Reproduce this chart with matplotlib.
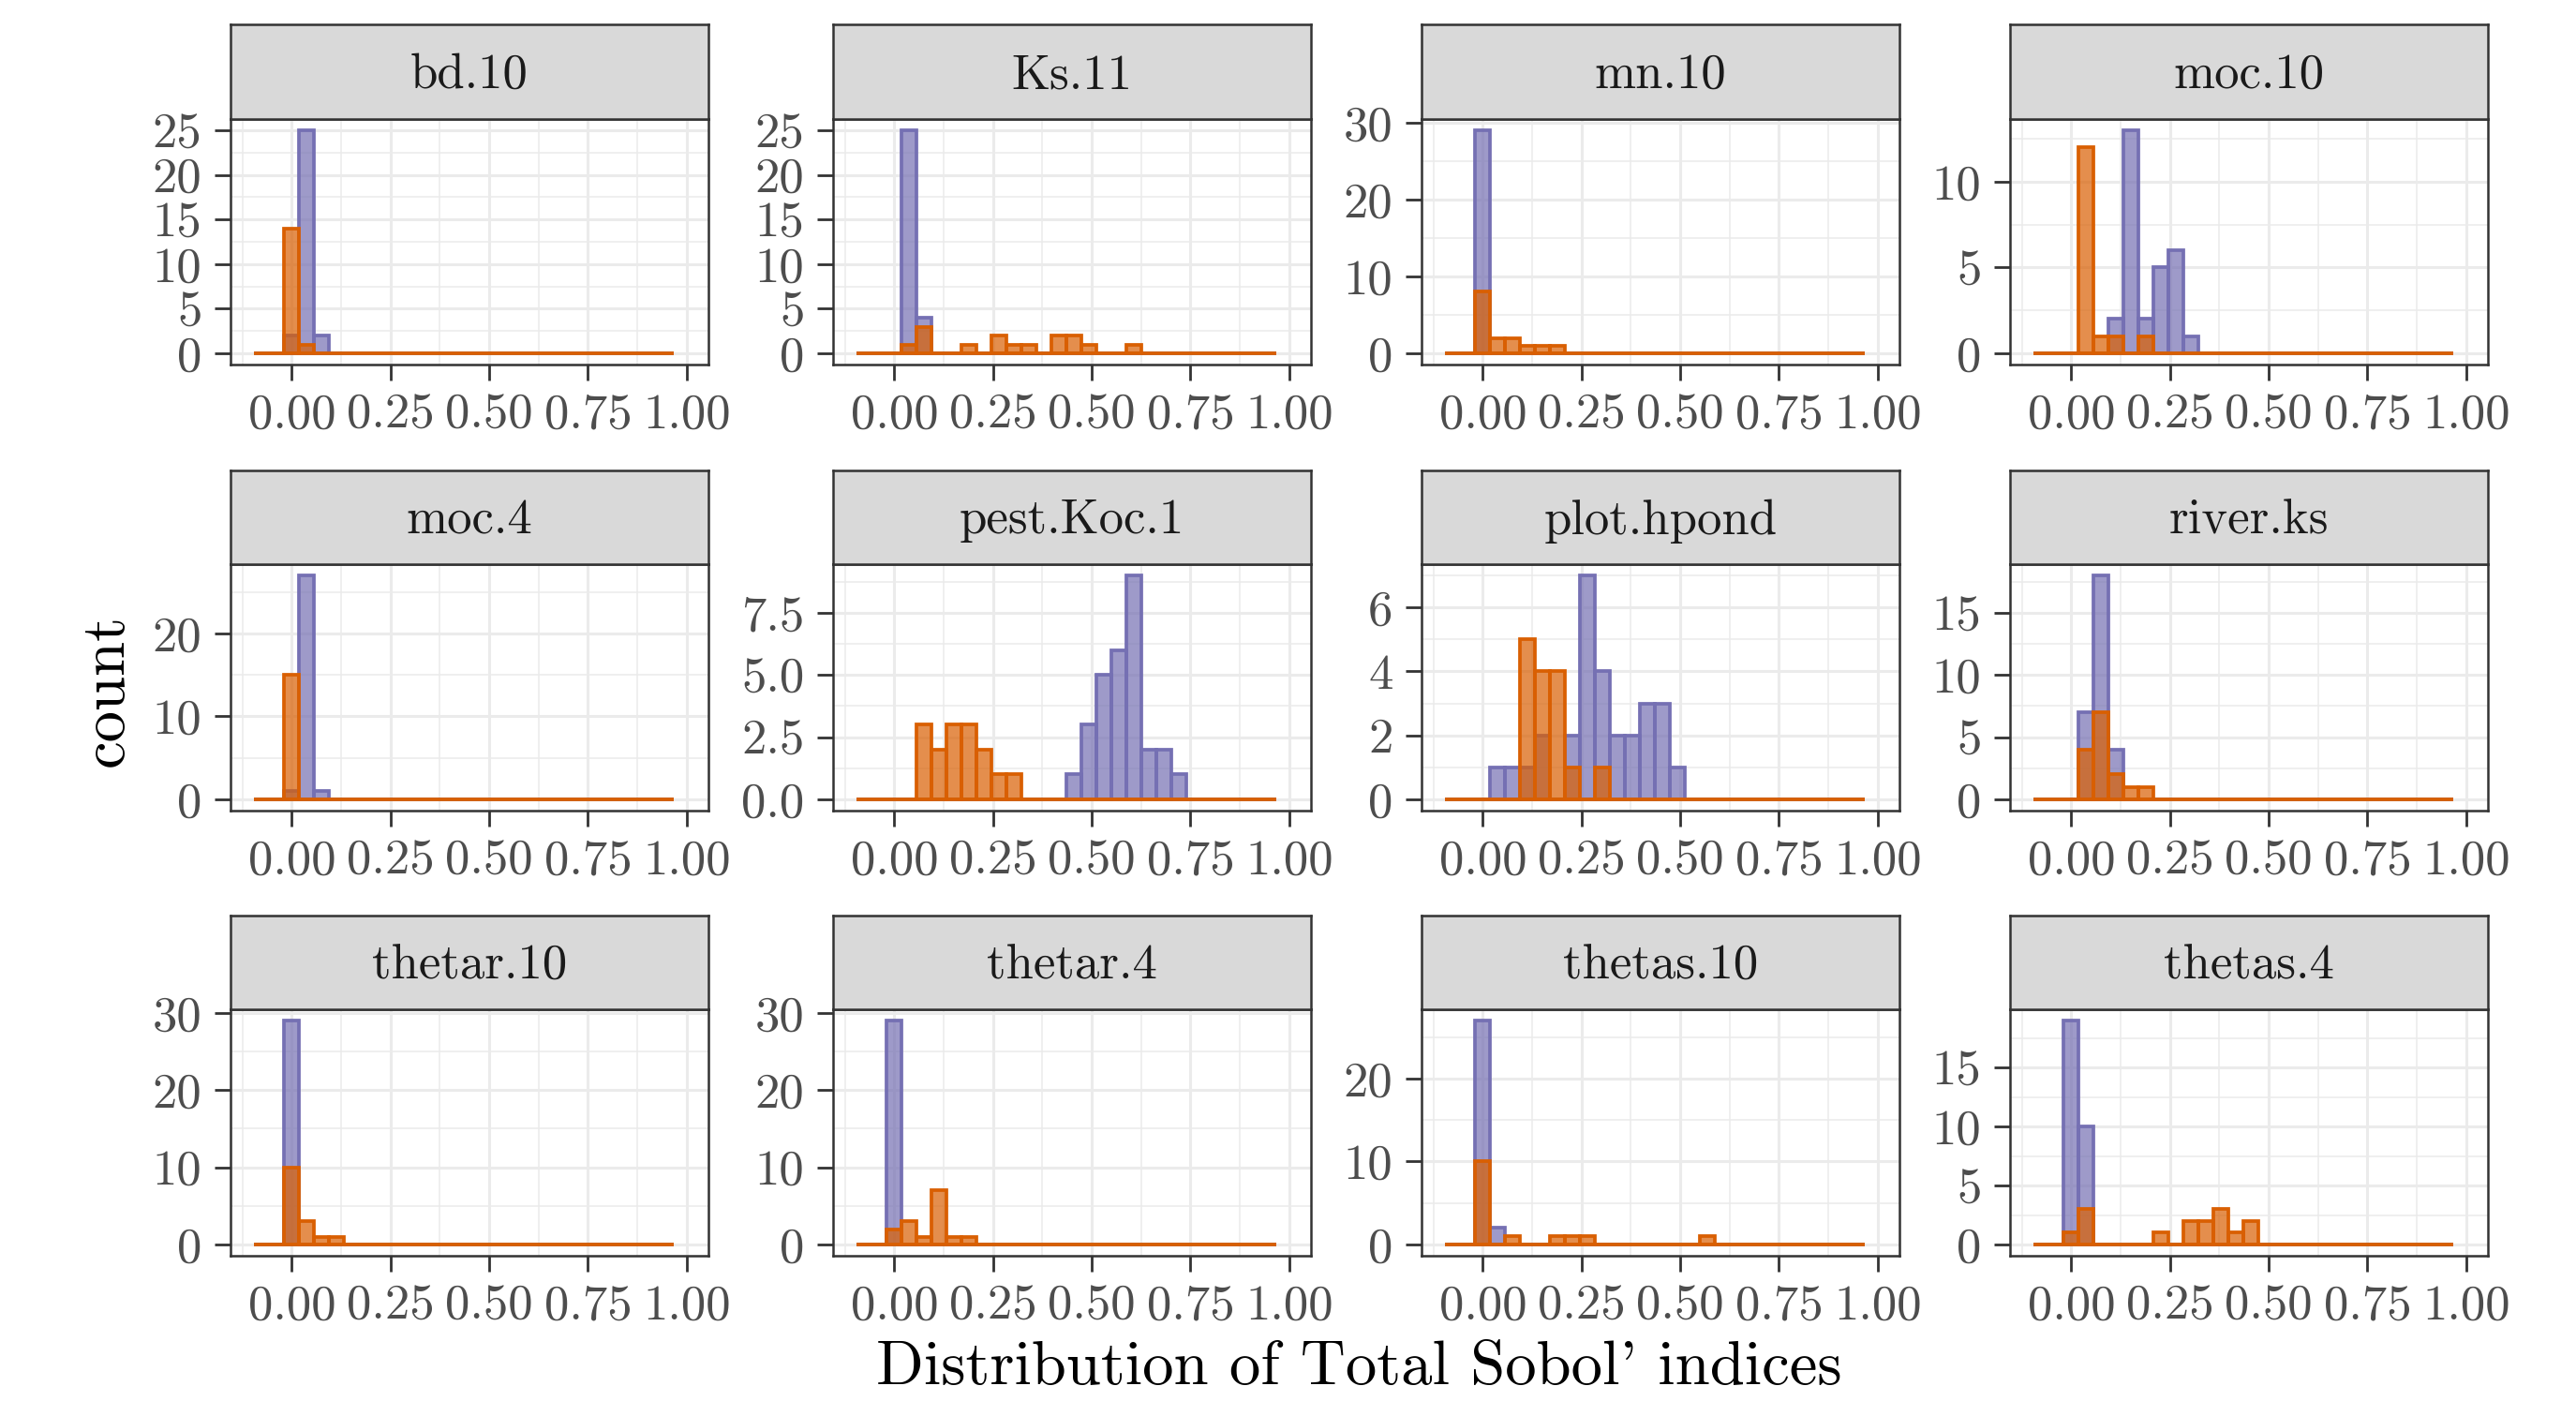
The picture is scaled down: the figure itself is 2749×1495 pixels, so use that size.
import numpy as np
import matplotlib
matplotlib.use("Agg")
import matplotlib.pyplot as plt

plt.rcParams["font.family"] = "cmr10"
plt.rcParams["mathtext.fontset"] = "cm"
plt.rcParams["axes.unicode_minus"] = False
plt.rcParams["axes.formatter.use_mathtext"] = True

params = ["bd.10", "Ks.11", "mn.10", "moc.10", "moc.4", "pest.Koc.1",
          "plot.hpond", "river.ks", "thetar.10", "thetar.4", "thetas.10", "thetas.4"]

# histogram counts, {bin index: count}; 28 bins of width 1.1/29, bin 2 is centred on 0
purple_counts = [
    {2: 2, 3: 25, 4: 2},
    {3: 25, 4: 4},
    {2: 29},
    {5: 2, 6: 13, 7: 2, 8: 5, 9: 6, 10: 1},
    {2: 1, 3: 27, 4: 1},
    {14: 1, 15: 3, 16: 5, 17: 6, 18: 9, 19: 2, 20: 2, 21: 1},
    {3: 1, 4: 1, 5: 1, 6: 2, 8: 2, 9: 7, 10: 4, 11: 2, 12: 2, 13: 3, 14: 3, 15: 1},
    {3: 7, 4: 18, 5: 4},
    {2: 29},
    {2: 29},
    {2: 27, 3: 2},
    {2: 19, 3: 10},
]
orange_counts = [
    {2: 14, 3: 1},
    {3: 1, 4: 3, 7: 1, 9: 2, 10: 1, 11: 1, 13: 2, 14: 2, 15: 1, 18: 1},
    {2: 8, 3: 2, 4: 2, 5: 1, 6: 1, 7: 1},
    {3: 12, 4: 1, 5: 1, 7: 1},
    {2: 15},
    {4: 3, 5: 2, 6: 3, 7: 3, 8: 2, 9: 1, 10: 1},
    {5: 5, 6: 4, 7: 4, 8: 1, 10: 1},
    {3: 4, 4: 7, 5: 2, 6: 1, 7: 1},
    {2: 10, 3: 3, 4: 1, 5: 1},
    {2: 2, 3: 3, 4: 1, 5: 7, 6: 1, 7: 1},
    {2: 10, 4: 1, 7: 1, 8: 1, 9: 1, 17: 1},
    {2: 1, 3: 3, 8: 1, 10: 2, 11: 2, 12: 3, 13: 1, 14: 2},
]

y_ticks = [
    [0, 5, 10, 15, 20, 25], [0, 5, 10, 15, 20, 25], [0, 10, 20, 30], [0, 5, 10],
    [0, 10, 20], [0, 2.5, 5, 7.5], [0, 2, 4, 6], [0, 5, 10, 15],
    [0, 10, 20, 30], [0, 10, 20, 30], [0, 10, 20], [0, 5, 10, 15],
]
x_ticks = [0, 0.25, 0.5, 0.75, 1.0]
x_labels = ["0.00", "0.25", "0.50", "0.75", "1.00"]

n_bins = 28
bin_w = 1.1 / 29
edges = bin_w * (np.arange(n_bins) - 2.5)

purple = "#7570B3"
orange = "#D95F02"
alpha = 0.7

W, H = 2749, 1495
fig = plt.figure(figsize=(W / 200, H / 200), dpi=200)

col_left = [246, 889, 1517, 2145]
panel_w = 510
strip_top = [26, 502, 977]
panel_top = [127, 602, 1077]
panel_bot = [389, 865, 1340]

grey20 = "#333333"
grey30 = "#4D4D4D"
grid_col = "#EBEBEB"

for i, name in enumerate(params):
    r, c = divmod(i, 4)
    L = col_left[c]
    ax = fig.add_axes([L / W, 1 - panel_bot[r] / H, panel_w / W,
                       (panel_bot[r] - panel_top[r]) / H])
    sax = fig.add_axes([L / W, 1 - panel_top[r] / H, panel_w / W,
                        (panel_top[r] - strip_top[r]) / H])

    pc = np.array([purple_counts[i].get(k, 0) for k in range(n_bins)])
    oc = np.array([orange_counts[i].get(k, 0) for k in range(n_bins)])

    ax.bar(edges, pc, width=bin_w, align="edge",
           facecolor=matplotlib.colors.to_rgba(purple, alpha),
           edgecolor=purple, linewidth=1.35, zorder=2)
    ax.bar(edges, oc, width=bin_w, align="edge",
           facecolor=matplotlib.colors.to_rgba(orange, alpha),
           edgecolor=orange, linewidth=1.35, zorder=3)

    ymax = max(pc.max(), oc.max())
    ax.set_ylim(-0.05 * ymax, 1.05 * ymax)
    ax.set_xlim(-0.155, 1.055)

    yt = y_ticks[i]
    step = yt[1] - yt[0]
    ax.set_yticks(yt)
    if step % 1:
        ax.set_yticklabels([f"{v:.1f}" for v in yt])
    else:
        ax.set_yticklabels([f"{v:g}" for v in yt])
    ymin_minor = np.arange(yt[0] - step / 2, 1.05 * ymax, step)
    ax.set_yticks([v for v in ymin_minor if -0.05 * ymax < v < 1.05 * ymax], minor=True)
    ax.set_xticks(x_ticks)
    ax.set_xticklabels(x_labels)
    ax.set_xticks([-0.125, 0.125, 0.375, 0.625, 0.875], minor=True)

    ax.set_axisbelow(True)
    ax.grid(which="major", color=grid_col, linewidth=1.1)
    ax.grid(which="minor", color=grid_col, linewidth=0.55)
    ax.tick_params(which="minor", length=0)
    ax.tick_params(which="major", length=6, width=1.0, color=grey20,
                   labelcolor=grey30, labelsize=19, pad=5)
    for sp in ax.spines.values():
        sp.set_color(grey20)
        sp.set_linewidth(0.9)

    sax.set_facecolor("#D9D9D9")
    sax.set_xticks([])
    sax.set_yticks([])
    for sp in sax.spines.values():
        sp.set_color(grey20)
        sp.set_linewidth(0.9)
    sax.text(0.5, 0.46, name, ha="center", va="center", fontsize=19,
             color="#1A1A1A", transform=sax.transAxes)

fig.text(1450 / W, 1 - 1460 / H, "Distribution of Total Sobol' indices",
         ha="center", va="center", fontsize=24)
fig.text(114 / W, 1 - 736 / H, "count", ha="center", va="center",
         rotation=90, fontsize=24)

fig.savefig("out.png", dpi=200)
